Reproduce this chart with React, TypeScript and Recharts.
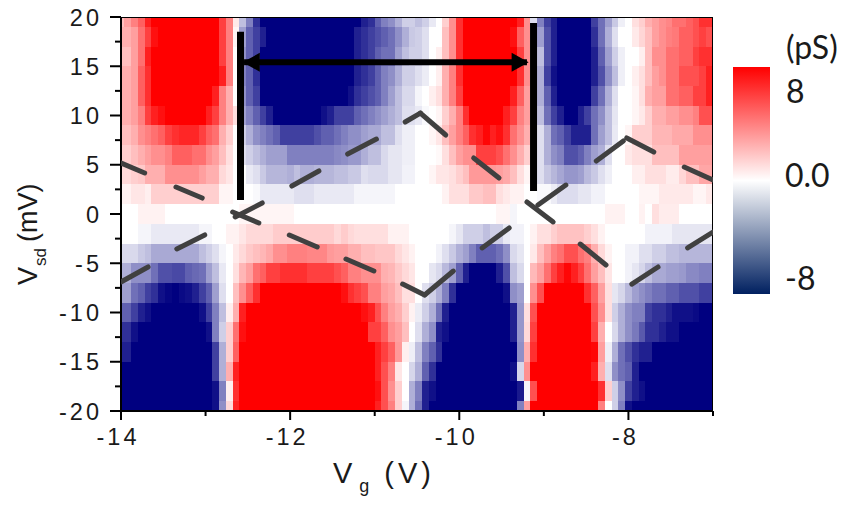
import React from 'react';
import { ScatterChart, Scatter, XAxis, YAxis, Customized } from 'recharts';

const vgTicks = [-14, -13, -12, -11, -10, -9, -8, -7];
const vsdTicks = [20, 17.5, 15, 12.5, 10, 7.5, 5, 2.5, 0, -2.5, -5, -7.5, -10, -12.5, -15, -17.5, -20];
const vsdLevels = [20, 18, 16, 14, 12, 10, 8, 6, 4, 2, 0, -2, -4, -6, -8, -10, -12, -14, -16, -18, -20];

// each row: [last column of the run, conductance in pS]
type Run = number[];
const r20: Run[] = [[1,2],[2,3],[3,4],[4,5],[5,7],[15,8],[16,6],[17,4],[18,.7],[19,-2],[20,-4],[21,-6.5],[36,-8],[37,-7],[38,-6.5],[39,-5],[40,-4],[41,-3.5],[42,-2.5],[44,-1.5],[45,-2],[46,-1.5],[47,-.7],[48,0],[49,1.5],[50,3.5],[51,6.5],[59,8],[60,7],[61,3.5],[62,-1],[63,-4],[64,-6],[65,-7],[70,-8],[71,-6],[72,-4.5],[73,-3],[74,-1.7],[75,-.5],[76,0],[77,1],[78,1.5],[79,2.5],[80,3],[81,3.5],[82,3.8],[84,4.5],[85,5],[86,5.5],[88,6.5]];
const r18: Run[] = [[2,2.5],[3,3],[4,4.5],[5,6],[6,7.5],[15,8],[16,6],[17,4],[18,.3],[19,-3],[20,-5],[21,-6],[22,-7],[35,-8],[36,-7],[37,-6.5],[38,-6],[39,-5.5],[40,-5],[41,-4.5],[42,-3.5],[43,-2.5],[44,-1.7],[45,-1.5],[46,-1],[47,0],[48,0],[49,2],[50,3.5],[51,6.5],[58,8],[59,7.5],[60,5],[61,3.5],[62,0],[63,-3],[64,-5.5],[65,-7],[70,-8],[71,-6.5],[72,-4.5],[73,-2.5],[74,-1],[76,0],[77,.7],[78,1.3],[79,2],[80,3],[81,3.5],[82,4],[83,4.2],[85,5],[86,5.5],[87,6],[88,5.5]];
const r16: Run[] = [[2,2],[3,3],[4,4.5],[5,7],[15,8],[16,6],[17,4],[18,0],[19,-3.5],[20,-5],[21,-6],[35,-8],[36,-7],[37,-6.5],[38,-6],[39,-5],[41,-4.5],[42,-3],[43,-2],[45,-1.5],[46,-1],[47,0],[48,.5],[49,2],[50,3.5],[51,6.5],[59,8],[60,6],[61,3.5],[62,0],[63,-2],[64,-5.5],[65,-7],[70,-8],[71,-7],[72,-5],[73,-3],[74,-1.5],[75,-.5],[77,0],[78,.5],[79,2],[81,3.5],[83,4.5],[85,5],[86,6],[88,6.5]];
const r14: Run[] = [[2,2.5],[3,3],[4,5],[5,6.5],[15,8],[16,7],[17,4],[18,0],[19,-4],[20,-5],[21,-6.5],[35,-8],[36,-7],[37,-6.5],[38,-6],[39,-5],[40,-4],[41,-3.5],[42,-2.5],[44,-1.5],[45,-1],[46,-.6],[47,0],[48,.5],[49,2.5],[50,4],[51,6.5],[59,8],[60,6.5],[61,3.5],[62,0],[63,-2.5],[64,-6],[65,-7.5],[70,-8],[71,-7],[72,-5.5],[73,-3.5],[74,-2],[75,-.5],[76,0],[77,.5],[78,1],[79,2],[80,3],[81,3.5],[83,4.5],[86,5.5],[87,6],[88,7]];
const r12: Run[] = [[2,2.5],[3,3],[4,5],[5,6.5],[14,8],[15,7],[16,4],[17,2.5],[18,0],[19,-3.5],[20,-5],[21,-6],[34,-8],[35,-7.5],[36,-6.5],[37,-6],[38,-5.5],[39,-5],[40,-4],[41,-3],[42,-2],[44,-1.2],[45,-.3],[46,0],[47,.5],[48,1],[49,2.5],[50,4],[51,6],[58,8],[59,7],[60,5],[61,3],[62,0],[63,-2.5],[64,-5],[65,-7],[70,-8],[71,-6],[72,-4.5],[73,-2.5],[74,-1],[76,0],[77,.3],[78,1],[79,2.5],[81,3],[83,4.5],[85,5],[87,6],[88,7]];
const r10: Run[] = [[2,2.5],[3,3],[4,4],[5,6],[6,7],[7,7.5],[13,8],[14,7],[15,6],[16,4],[17,2.5],[18,1],[19,-3],[20,-4],[21,-5],[22,-6],[23,-7],[30,-8],[31,-7.5],[32,-7],[35,-6],[36,-5],[37,-4.5],[38,-4],[39,-3.5],[40,-3],[41,-2.5],[42,-2],[44,-1],[45,-.7],[46,-.2],[47,0],[48,.3],[49,1.5],[50,2.5],[51,4],[52,6.5],[57,8],[58,7],[59,6],[60,4],[61,3],[62,0],[63,-2],[64,-4.5],[65,-6],[66,-7],[68,-8],[69,-7],[70,-6],[71,-4.5],[72,-3.5],[73,-2],[74,-.8],[76,0],[77,.3],[78,.7],[79,1.5],[81,2.5],[83,3],[85,3.5],[86,4],[88,5.5]];
const r8: Run[] = [[2,2],[3,2.5],[4,3.5],[5,4],[6,4.5],[7,5],[8,6],[9,6.5],[12,6.8],[13,6],[14,5],[15,4.5],[16,2.5],[17,1.5],[18,0],[19,-1.5],[20,-2.5],[21,-3.5],[22,-4],[23,-4.5],[24,-5],[29,-6],[30,-5.5],[32,-5],[33,-4.5],[34,-4],[36,-3.5],[37,-3],[39,-2.7],[41,-2],[42,-1],[44,-.5],[46,0],[47,.3],[48,.8],[49,2],[50,3],[51,4],[52,5],[53,6.5],[54,7],[55,7.8],[56,7],[57,7.5],[58,6.5],[59,4.5],[60,3.5],[61,2.5],[62,.5],[63,-1],[64,-2.5],[65,-4.5],[66,-5],[67,-6],[70,-7],[71,-4.5],[72,-3],[73,-2],[74,-.7],[75,0],[76,.3],[79,1.5],[82,2.3],[85,2.7],[88,3.5]];
const r6: Run[] = [[2,1.5],[3,2],[4,2.5],[5,3],[7,3.5],[8,4],[11,5],[13,4.5],[14,3.5],[15,3],[16,2],[17,1],[18,0],[19,-1],[20,-1.5],[21,-2],[22,-2.5],[25,-3],[32,-4],[33,-3.7],[34,-3.5],[36,-3.2],[37,-2.5],[39,-2],[40,-1.2],[42,-.8],[44,-.5],[47,0],[48,.2],[49,1],[50,2],[51,3],[53,3.5],[56,6],[57,5.5],[58,4.5],[59,3.5],[60,2.5],[61,1.5],[62,.2],[63,-1],[64,-2.5],[65,-3.5],[66,-4],[68,-5.5],[69,-5],[70,-4],[71,-3],[72,-2.5],[73,-1],[75,0],[76,.7],[79,1],[83,2],[88,3]];
const r4: Run[] = [[2,1.2],[3,1.5],[4,1.7],[7,2.5],[12,3.5],[13,3],[15,2.5],[16,1.2],[17,.8],[19,0],[20,-.7],[21,-1],[22,-1.7],[25,-2.3],[26,-2.5],[27,-2],[29,-2.5],[32,-2.3],[34,-2],[36,-1.7],[37,-1],[40,-1.2],[42,-.8],[44,-.4],[46,0],[47,.3],[49,.8],[50,1],[51,1.5],[52,2],[56,3.2],[57,3],[58,2.7],[59,2],[60,1],[61,.3],[62,0],[63,-1],[64,-1.8],[65,-2.3],[66,-2.8],[68,-3.3],[69,-3],[70,-2.2],[71,-1.7],[72,-1],[73,-.5],[76,0],[78,.5],[81,1],[83,.6],[84,1.3],[86,2],[88,2.8]];
const r2: Run[] = [[2,.4],[4,.8],[5,.5],[15,1.5],[17,.3],[20,0],[21,-.2],[26,-.7],[29,-1],[35,-.7],[41,-.3],[48,0],[49,.4],[52,1],[54,1.7],[56,2],[57,1],[58,.7],[60,.4],[62,0],[64,-.2],[65,-.6],[68,-1.1],[70,-.8],[72,-.4],[77,0],[80,.3],[85,.7],[87,.3],[88,.7]];
const r0: Run[] = [[3,0],[7,.4],[18,0],[26,.3],[56,0],[58,.3],[59,-.3],[72,0],[75,.4],[77,0],[78,.4],[79,0],[80,1],[83,.6],[88,0]];
const rm2: Run[] = [[3,0],[5,-.3],[12,-.7],[14,-.3],[16,0],[18,.4],[19,.8],[23,1.2],[32,1.6],[33,1.2],[34,1.6],[35,1.2],[40,1],[43,.4],[49,0],[50,-.3],[51,-.8],[54,-1.5],[55,-2],[57,-1.5],[58,-.7],[60,-.4],[61,0],[62,.4],[64,1],[65,1.5],[69,1.9],[70,1.5],[71,1],[72,.4],[78,0],[82,-.4],[88,-.8]];
const rm4: Run[] = [[3,-1.2],[4,-1.7],[5,-2],[12,-2.7],[13,-2],[14,-1.5],[15,-1],[16,-.3],[17,0],[18,.7],[19,1.2],[20,1.7],[21,2],[22,2.3],[23,2.7],[25,3.5],[28,4],[31,3.8],[32,3.2],[34,3],[36,2.5],[38,2],[41,1.8],[42,1.2],[43,.8],[44,.4],[47,0],[48,-.4],[49,-1],[50,-1.7],[51,-2.5],[52,-3],[53,-4],[56,-5],[57,-4.5],[58,-3.5],[59,-1.2],[60,-.8],[61,0],[62,.7],[63,2],[64,3],[65,4],[66,4.5],[68,5.5],[69,4.5],[70,4],[71,2.5],[72,1.2],[73,.4],[75,0],[77,-.4],[79,-1],[81,-1.5],[83,-2],[88,-2.3]];
const rm6: Run[] = [[2,-2.5],[5,-3.5],[6,-4.5],[8,-5.5],[10,-5.7],[11,-5],[12,-4.7],[13,-4.5],[14,-3],[15,-2],[16,-.7],[17,0],[18,1],[19,2.3],[20,3],[21,4.5],[22,5],[24,6],[28,6.5],[32,6],[33,5.5],[34,5],[36,4],[39,3.5],[40,2.5],[41,2.3],[42,1.7],[43,1.2],[44,.8],[46,0],[47,-.8],[48,-1.2],[49,-2.2],[50,-3],[51,-5],[52,-7],[56,-8],[57,-7],[58,-5.5],[59,-2],[60,-1.2],[61,0],[62,2.2],[63,3],[64,4.5],[65,6],[66,7],[67,7.8],[68,7],[69,6],[70,4.5],[71,3],[72,2],[73,.8],[75,0],[76,-.4],[77,-.8],[78,-1.3],[79,-2],[81,-2.7],[83,-3],[84,-3.2],[86,-3.7],[88,-4]];
const rm8: Run[] = [[2,-3],[3,-4.5],[4,-5],[5,-6],[6,-6.5],[7,-7.5],[8,-7.8],[9,-8],[10,-7.7],[11,-7.5],[12,-7],[13,-6],[14,-5],[15,-3],[16,-1],[17,0],[18,2],[19,3.5],[20,5],[21,6.5],[33,8],[34,7.5],[35,6.5],[36,6],[37,5.5],[39,4],[40,3],[41,2.7],[42,2],[44,1],[45,0],[46,-1],[47,-1.5],[48,-2.5],[49,-4],[50,-6.5],[57,-8],[58,-7.5],[59,-3.5],[60,-3],[61,0],[62,3.5],[63,5.5],[69,8],[70,6.5],[71,5],[72,3],[73,1],[74,-.8],[75,-1.3],[76,-2.2],[77,-3],[78,-3.5],[79,-4],[81,-4.5],[83,-5],[86,-5.5],[88,-6]];
const rm10: Run[] = [[2,-5],[3,-6],[4,-7],[5,-7.5],[12,-8],[13,-7.5],[14,-6],[15,-4],[16,-2],[17,.5],[18,2.5],[19,7],[36,8],[37,7.5],[38,7],[39,5.5],[40,4],[41,3],[42,2.5],[43,1.5],[44,.4],[45,-.6],[46,-1.5],[47,-2.5],[48,-4.5],[49,-7],[58,-8],[59,-7],[60,-3.3],[61,1],[62,5.5],[70,8],[71,5.5],[72,3.5],[73,1],[74,-1.5],[75,-2.5],[76,-3.5],[78,-4],[79,-6],[81,-6.5],[82,-7],[85,-7.5],[86,-7.7],[88,-8]];
const rm12: Run[] = [[2,-6.5],[3,-7.5],[13,-8],[14,-7.5],[15,-4],[16,-1.5],[17,1.5],[18,4.5],[19,7.5],[37,8],[39,6],[40,5],[41,3.5],[42,3],[43,2],[44,0],[45,-1],[46,-2.5],[47,-3.5],[48,-7],[49,-7.5],[58,-8],[59,-7],[60,-3.3],[61,1.2],[62,6],[70,8],[71,6],[72,2.5],[73,0],[74,-1.2],[75,-2.5],[76,-3.5],[77,-4.2],[78,-5.2],[80,-6.5],[81,-7],[83,-7.5],[88,-8]];
const rm14: Run[] = [[2,-7],[14,-8],[15,-6],[16,-2.5],[17,1.5],[18,5],[38,8],[39,7],[40,6],[41,5],[42,3.2],[43,.5],[44,-.5],[45,-2],[46,-4],[47,-5],[48,-6.5],[59,-8],[60,-3.5],[61,2.5],[62,6.5],[70,8],[71,7.8],[72,3],[73,-.5],[74,-2.5],[75,-4.5],[76,-5.5],[77,-6.5],[79,-7],[88,-8]];
const rm16: Run[] = [[14,-8],[15,-6],[16,-2.5],[17,2.5],[18,7],[38,8],[39,7],[40,5.5],[41,4],[42,.8],[43,0],[44,-1.3],[45,-2.5],[46,-5],[47,-6.5],[58,-8],[59,-7.5],[60,-1.3],[61,3.5],[70,8],[71,7],[72,2.5],[73,-1],[74,-3.5],[75,-4.5],[76,-5],[77,-7],[88,-8]];
const rm18: Run[] = [[14,-8],[15,-7.5],[16,-4],[17,.5],[18,6.5],[38,8],[39,7.5],[40,5.5],[41,3.5],[42,1.5],[43,0],[44,-2.5],[45,-4],[46,-7],[47,-7.5],[59,-8],[60,-7.2],[61,-.3],[62,5.5],[71,8],[72,6.5],[73,1.5],[74,-1.5],[75,-3.5],[76,-6],[77,-7],[78,-7.5],[88,-8]];
const rm20: Run[] = [[14,-8],[15,-7.5],[16,-3.5],[17,1.2],[18,7],[38,8],[39,7],[40,5.5],[41,4],[42,1.5],[43,-.3],[44,-2.5],[45,-4.5],[46,-7],[59,-8],[60,-4],[61,3],[71,8],[72,4],[73,0],[74,-1.5],[75,-4],[76,-7.5],[88,-8]];
const rows = [r20, r18, r16, r14, r12, r10, r8, r6, r4, r2, r0, rm2, rm4, rm6, rm8, rm10, rm12, rm14, rm16, rm18, rm20];

// dashed diamond edges: Vg1, Vsd1, Vg2, Vsd2
const risingDashes = [[-14,-6.9,-13.68,-5.38],[-13.34,-3.55,-13.01,-2.13],[-12.65,-.3,-12.33,1.12],[-11.98,2.84,-11.66,4.37],[-11.32,6.09,-10.98,7.61],[-10.64,9.34,-10.46,10.25],[-10.07,-5.79,-10.41,-8.22],[-9.73,-3.45,-9.41,-1.42],[-9.07,.91,-8.74,2.94],[-8.38,5.38,-8.06,7.41],[-7.96,-7.11,-7.65,-5.38],[-7.3,-3.45,-7,-1.83]];
const fallingDashes = [[-14.03,5.28,-13.72,4.16],[-13.35,2.74,-13.04,1.62],[-12.68,.2,-12.37,-.91],[-12.01,-2.13,-11.68,-3.35],[-11.34,-4.57,-11.01,-5.79],[-10.67,-7.11,-10.41,-8.22],[-10.46,10.25,-10.16,8.02],[-9.83,5.69,-9.53,3.65],[-9.2,1.22,-8.89,-.81],[-8.57,-3.05,-8.265,-5.18],[-8.02,7.72,-7.7,6.29],[-7.34,4.77,-7,3.45]];
const gapBars = [[-12.587,18.5,-12.587,1.42],[-9.122,19.4,-9.122,2.33]];
const arrowLine = [-12.545,15.4,-9.2,15.4];
const frameEdges = [[-14,20,-7,20],[-7,20,-7,-20],[-14,20,-14,-20],[-14,-20,-7,-20]];
const arrowTips = [{ x: -12.56, y: 15.4, dir: -1 }, { x: -9.18, y: 15.4, dir: 1 }];
const scaleStops = [{ o: 0, c: '#ff0000' }, { o: 0.5, c: '#ffffff' }, { o: 1, c: '#002060' }];

const W = 850, H = 508, L = 121, R = 713, T = 17, B = 411;
const pxPerV = (R - L) / 7, pxPerMv = (B - T) / 40;

const colourOf = (v: number) => {
  const t = Math.min(1, Math.abs(v) / 8);
  const g = Math.round(255 * (1 - t));
  return v >= 0 ? `rgb(255,${g},${g})` : `rgb(${g},${g},${Math.round(255 - 127 * t)})`;
};

const cells = rows.flatMap((runs, r) => {
  const level = vsdLevels[r];
  const yHi = Math.min(20, level + 1), yLo = Math.max(-20, level - 1);
  let prev = 0;
  return runs.map(([end, v]) => {
    const x0 = Math.max(-14, -14 + 0.08 * (prev - 0.5));
    const x1 = end >= 88 ? -7 : -14 + 0.08 * (end - 0.5);
    prev = end;
    return { x: (x0 + x1) / 2, y: (yHi + yLo) / 2, w: x1 - x0, h: yHi - yLo, v };
  });
});

const CellShape = (p: any) => {
  const { cx, cy, payload } = p;
  const hw = (payload.w * pxPerV) / 2, hh = (payload.h * pxPerMv) / 2;
  const x0 = Math.round(cx - hw), x1 = Math.round(cx + hw), y0 = Math.round(cy - hh), y1 = Math.round(cy + hh);
  return <rect x={x0} y={y0} width={x1 - x0} height={y1 - y0} fill={colourOf(payload.v)} shapeRendering="crispEdges" />;
};

const ArrowHead = (p: any) => {
  const { cx, cy, payload } = p;
  const d = payload.dir;
  return <polygon points={`${cx},${cy} ${cx - d * 17},${cy - 9.5} ${cx - d * 17},${cy + 9.5}`} fill="#000" />;
};

const NoDot = () => <g />;

const tickFont = { fontFamily: '"Liberation Sans", Arial, sans-serif', fontSize: 23.5, letterSpacing: 3, fill: '#1a1a1a' };

const XTick = ({ x, y, payload }: any) => {
  const major = (payload.value + 14) % 2 === 0;
  return (
    <g>
      <line x1={x} x2={x} y1={y} y2={y + (major ? 9 : 5)} stroke="#000" strokeWidth={2} />
      {major && <text x={x - 3} y={y + 34} textAnchor="middle" {...tickFont}>{String(payload.value)}</text>}
    </g>
  );
};

const YTick = ({ x, y, payload }: any) => {
  const major = payload.value % 5 === 0;
  return (
    <g>
      <line x1={x - (major ? 11 : 6)} x2={x} y1={y} y2={y} stroke="#000" strokeWidth={2} />
      {major && <text x={x - 19} y={y + 8.5} textAnchor="end" {...tickFont}>{String(payload.value)}</text>}
    </g>
  );
};

const Seg = (d: number[], k: string, stroke: string, width: number, cap: 'round' | 'butt') => (
  <Scatter
    key={k}
    data={[{ x: d[0], y: d[1] }, { x: d[2], y: d[3] }]}
    line={{ stroke, strokeWidth: width, strokeLinecap: cap, fill: 'none' }}
    shape={NoDot}
    isAnimationActive={false}
  />
);

const Overlay = () => (
  <g>
    <defs>
      <linearGradient id="scale" x1="0" y1="0" x2="0" y2="1">
        {scaleStops.map((s) => <stop key={s.o} offset={s.o} stopColor={s.c} />)}
      </linearGradient>
    </defs>
    <rect x={733} y={67} width={37} height={227} fill="url(#scale)" />
    <g fontFamily="Lato, sans-serif" fontSize={32} fill="#1a1a1a">
      <text x={786} y={59}>(pS)</text>
      <text x={786} y={103}>8</text>
      <text x={785} y={187}>0.0</text>
      <text x={785} y={290}>-8</text>
      <text x={340} y={46}>3.5 V</text>
    </g>
    <g fontFamily='"Liberation Sans", Arial, sans-serif' fill="#1a1a1a">
      <text x={333} y={483} fontSize={29} letterSpacing={1}>V<tspan dy={9} dx={6} fontSize={18}>g</tspan><tspan dy={-9} dx={14} letterSpacing={4}>(V)</tspan></text>
      <text transform="translate(37,285) rotate(-90)" fontSize={27}>V<tspan dy={9} dx={1} fontSize={17}>sd</tspan><tspan dy={-9} dx={6}>(mV)</tspan></text>
    </g>
  </g>
);

export default function App() {
  return (
    <div style={{ position: 'absolute', left: 0, top: 0, width: W, height: H }}>
      <ScatterChart width={W} height={H} margin={{ top: T, right: W - R, bottom: 0, left: 0 }}>
        <XAxis type="number" dataKey="x" domain={[-14, -7]} ticks={vgTicks} interval={0} height={H - B} tickSize={0} tickMargin={0} tickLine={false} tick={XTick} stroke="#000" strokeWidth={2} allowDataOverflow />
        <YAxis type="number" dataKey="y" domain={[-20, 20]} ticks={vsdTicks} interval={0} width={L} tickSize={0} tickMargin={0} tickLine={false} tick={YTick} stroke="#000" strokeWidth={2} allowDataOverflow />
        <Scatter data={cells} shape={CellShape} isAnimationActive={false} />
        {frameEdges.map((d, i) => Seg(d, 'e' + i, '#000', 2, 'butt'))}
        {risingDashes.map((d, i) => Seg(d, 'r' + i, '#404040', 5, 'round'))}
        {fallingDashes.map((d, i) => Seg(d, 'f' + i, '#404040', 5, 'round'))}
        {gapBars.map((d, i) => Seg(d, 'b' + i, '#000', 7, 'butt'))}
        {Seg(arrowLine, 'shaft', '#000', 6, 'butt')}
        <Scatter data={arrowTips} shape={ArrowHead} isAnimationActive={false} />
        <Customized component={Overlay} />
      </ScatterChart>
    </div>
  );
}
